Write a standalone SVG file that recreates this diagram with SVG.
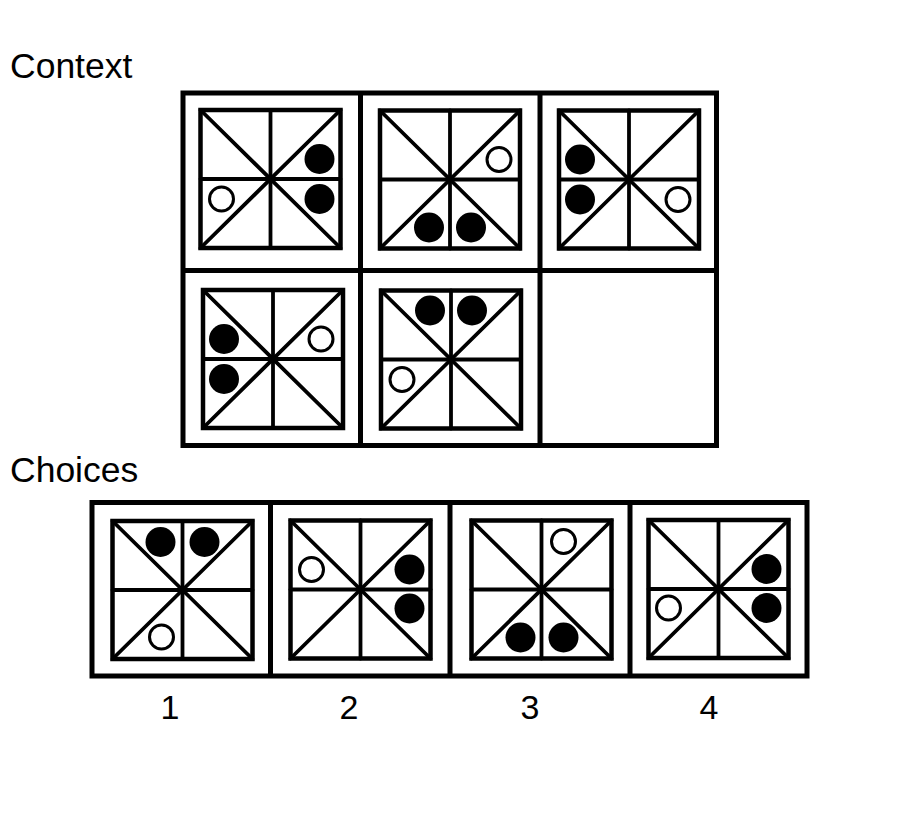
<svg xmlns="http://www.w3.org/2000/svg" xmlns:xlink="http://www.w3.org/1999/xlink" width="900" height="820" viewBox="0 0 900 820">
<style>
.lbl{font-family:"Liberation Sans",Arial,sans-serif;font-size:35.5px;fill:#000}
.num{font-family:"Liberation Sans",Arial,sans-serif;font-size:34px;fill:#000;text-anchor:middle}
.grid{fill:none;stroke:#000;stroke-width:5}
.sq{fill:#fff;stroke:#000;stroke-width:4.5}
.ln{stroke:#000;stroke-width:3.8;stroke-linecap:round}
.f{fill:#000}
.h{fill:#fff;stroke:#000;stroke-width:3}
</style>
<defs>
<g id="panel">
<rect class="sq" x="-70" y="-69" width="140" height="138"/>
<line class="ln" x1="0" y1="-69" x2="0" y2="69"/>
<line class="ln" x1="-70" y1="0" x2="70" y2="0"/>
<line class="ln" x1="-70" y1="-69" x2="70" y2="69"/>
<line class="ln" x1="70" y1="-69" x2="-70" y2="69"/>
</g>
</defs>
<rect width="900" height="820" fill="#fff"/>
<text class="lbl" x="10" y="78">Context</text>
<text class="lbl" x="10" y="482">Choices</text>
<g id="context-grid">
<rect class="grid" x="183" y="93" width="533.5" height="352.5"/>
<line class="grid" x1="360.5" y1="93" x2="360.5" y2="445.5"/>
<line class="grid" x1="540" y1="93" x2="540" y2="445.5"/>
<line class="grid" x1="183" y1="270.5" x2="716.5" y2="270.5"/>
</g>
<g id="ctx1" transform="translate(270.5,179)">
<use xlink:href="#panel" href="#panel"/>
<circle class="f" cx="49" cy="-20" r="15"/>
<circle class="f" cx="49" cy="20" r="15"/>
<circle class="h" cx="-49" cy="20" r="12"/>
</g>
<g id="ctx2" transform="translate(450,179.5)">
<use xlink:href="#panel" href="#panel"/>
<circle class="h" cx="49" cy="-20" r="12"/>
<circle class="f" cx="-21" cy="48" r="15"/>
<circle class="f" cx="21" cy="48" r="15"/>
</g>
<g id="ctx3" transform="translate(629,179.5)">
<use xlink:href="#panel" href="#panel"/>
<circle class="f" cx="-49" cy="-20" r="15"/>
<circle class="f" cx="-49" cy="20" r="15"/>
<circle class="h" cx="49" cy="20" r="12"/>
</g>
<g id="ctx4" transform="translate(273,359)">
<use xlink:href="#panel" href="#panel"/>
<circle class="f" cx="-49" cy="-20" r="15"/>
<circle class="f" cx="-49" cy="20" r="15"/>
<circle class="h" cx="48" cy="-20" r="12"/>
</g>
<g id="ctx5" transform="translate(451,359.5)">
<use xlink:href="#panel" href="#panel"/>
<circle class="f" cx="-21" cy="-49" r="15"/>
<circle class="f" cx="21" cy="-49" r="15"/>
<circle class="h" cx="-49" cy="20" r="12"/>
</g>
<g id="choice-grid">
<rect class="grid" x="92" y="502.5" width="715" height="173.5"/>
<line class="grid" x1="270.5" y1="502.5" x2="270.5" y2="676"/>
<line class="grid" x1="450" y1="502.5" x2="450" y2="676"/>
<line class="grid" x1="630" y1="502.5" x2="630" y2="676"/>
</g>
<g id="choice1" transform="translate(182.5,590)">
<use xlink:href="#panel" href="#panel"/>
<circle class="f" cx="-22" cy="-48" r="15"/>
<circle class="f" cx="22" cy="-48" r="15"/>
<circle class="h" cx="-21" cy="47" r="12"/>
</g>
<g id="choice2" transform="translate(360.5,589.5)">
<use xlink:href="#panel" href="#panel"/>
<circle class="h" cx="-49" cy="-20" r="12"/>
<circle class="f" cx="49" cy="-20" r="15"/>
<circle class="f" cx="49" cy="19" r="15"/>
</g>
<g id="choice3" transform="translate(541.5,589.5)">
<use xlink:href="#panel" href="#panel"/>
<circle class="h" cx="22" cy="-48" r="12"/>
<circle class="f" cx="-21" cy="48" r="15"/>
<circle class="f" cx="22" cy="48" r="15"/>
</g>
<g id="choice4" transform="translate(718.5,589)">
<use xlink:href="#panel" href="#panel"/>
<circle class="f" cx="48" cy="-20" r="15"/>
<circle class="f" cx="48" cy="19" r="15"/>
<circle class="h" cx="-50" cy="19" r="12"/>
</g>
<g id="labels">
<text class="num" x="170" y="719">1</text>
<text class="num" x="349" y="719">2</text>
<text class="num" x="530" y="719">3</text>
<text class="num" x="709" y="719">4</text>
</g>
</svg>
